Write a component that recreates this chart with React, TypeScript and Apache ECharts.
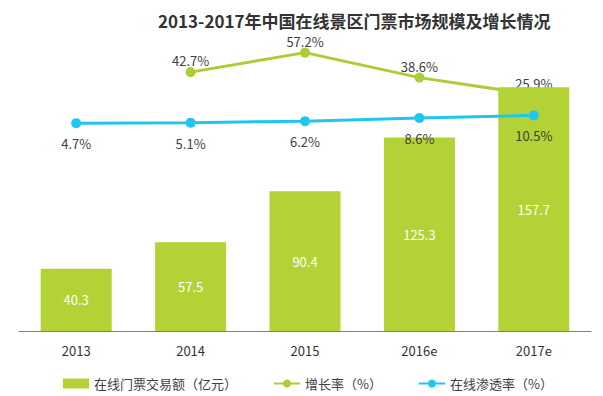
import React, { useEffect, useRef } from "react";
import * as echarts from "echarts";

const categories = ["2013", "2014", "2015", "2016e", "2017e"];
const tradeVolume = [40.3, 57.5, 90.4, 125.3, 157.7];
const growthRate: (number | string)[] = ["-", 42.7, 57.2, 38.6, 25.9];
const penetrationRate = [4.7, 5.1, 6.2, 8.6, 10.5];
const seriesNames = ["在线门票交易额（亿元）", "增长率（%）", "在线渗透率（%）"];
const titleText = "2013-2017年中国在线景区门票市场规模及增长情况";

const FONT = "'Noto Sans CJK SC', 'Open Sans', sans-serif";

export default function App() {
  const ref = useRef<HTMLDivElement>(null);
  useEffect(() => {
    if (!ref.current) return;
    const chart = echarts.init(ref.current, undefined, { renderer: "svg" });
    chart.setOption({
      animation: false,
      backgroundColor: "#ffffff",
      textStyle: { fontFamily: FONT },
      title: {
        text: titleText,
        left: 153,
        top: 5,
        textStyle: { fontSize: 17, lineHeight: 20, fontWeight: "bold", color: "#333333", fontFamily: FONT },
      },
      legend: {
        left: 58,
        top: 372,
        itemWidth: 26,
        itemHeight: 10,
        itemGap: 36,
        textStyle: { fontSize: 13, color: "#404040", fontFamily: FONT },
        data: [
          { name: seriesNames[0], icon: "rect" },
          { name: seriesNames[1] },
          { name: seriesNames[2] },
        ],
      },
      grid: { left: 19, right: 12, top: 22, bottom: 65 },
      xAxis: {
        type: "category",
        data: categories,
        axisLine: { lineStyle: { color: "#7f7f7f", width: 1 } },
        axisTick: { show: false },
        axisLabel: { color: "#333333", fontSize: 13, margin: 13, fontFamily: FONT },
      },
      yAxis: [
        { type: "value", min: 0, max: 200, show: false, splitLine: { show: false } },
        { type: "value", min: -150, max: 80, show: false, splitLine: { show: false } },
      ],
      series: [
        {
          name: seriesNames[0],
          type: "bar",
          data: tradeVolume,
          barWidth: 71,
          z: 2,
          itemStyle: { color: "#b2d235" },
          label: {
            show: true,
            position: "inside",
            color: "#ffffff",
            fontSize: 13,
            fontFamily: FONT,
          },
        },
        {
          name: seriesNames[1],
          type: "line",
          yAxisIndex: 1,
          data: growthRate,
          z: 1,
          symbol: "circle",
          symbolSize: 10,
          itemStyle: { color: "#abcd36" },
          lineStyle: { color: "#abcd36", width: 3 },
          label: {
            show: true,
            position: "top",
            distance: 0,
            formatter: "{c}%",
            color: "#404040",
            fontSize: 13,
            fontFamily: FONT,
          },
        },
        {
          name: seriesNames[2],
          type: "line",
          yAxisIndex: 1,
          data: penetrationRate,
          z: 3,
          symbol: "circle",
          symbolSize: 10,
          itemStyle: { color: "#1fc6ef" },
          lineStyle: { color: "#1fc6ef", width: 3 },
          label: {
            show: true,
            position: "bottom",
            distance: 9,
            formatter: "{c}%",
            color: "#404040",
            fontSize: 13,
            fontFamily: FONT,
          },
        },
      ],
    });
    return () => chart.dispose();
  }, []);
  return (
    <div
      ref={ref}
      style={{ position: "fixed", left: 0, top: 0, width: 603, height: 396 }}
    />
  );
}
